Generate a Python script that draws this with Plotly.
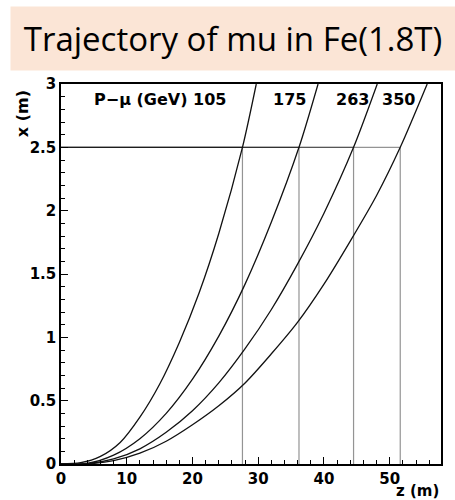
import plotly.graph_objects as go

# Muon momenta (GeV) and the depth z (m) where each track reaches x = 2.5 m
momenta = [105, 175, 263, 350]
stop_z = [27.6, 36.2, 44.5, 51.6]
stop_x = 2.5

# Trajectories x(z) in the 1.8 T iron
traj_z = {
    105: [0, 3, 6, 9, 12, 15, 18, 21, 24, 27.6, 29.7],
    175: [0, 4, 8, 12, 16, 20, 24, 28, 32, 36.2, 39.1],
    263: [0, 4, 8, 12, 16, 20, 24, 28, 32, 36, 40, 44.5, 48.1],
    350: [0, 4, 8, 12, 16, 20, 24, 28, 32, 36, 40, 44, 48, 51.6, 55.7],
}
traj_x = {
    105: [0, 0.01, 0.06, 0.17, 0.37, 0.63, 0.96, 1.35, 1.82, 2.5, 3.0],
    175: [0, 0.005, 0.07, 0.20, 0.40, 0.67, 1.01, 1.42, 1.91, 2.5, 3.0],
    263: [0, 0.002, 0.04, 0.12, 0.25, 0.42, 0.64, 0.91, 1.22, 1.58, 1.98, 2.5, 3.0],
    350: [0, 0.001, 0.026, 0.085, 0.18, 0.31, 0.46, 0.64, 0.87, 1.12, 1.42, 1.76, 2.12, 2.5, 3.0],
}

# Label text and positions
header_text = "P\u2212\u03bc (GeV) 105"
label_z = [15.1, 34.7, 44.4, 51.4]
label_x = 2.875

FONT = "DejaVu Sans"

fig = go.Figure()

# L-shaped guides: along x = 2.5 from z = 0, then down to the axis
for z in stop_z:
    fig.add_trace(go.Scatter(
        x=[0, z, z], y=[stop_x, stop_x, 0], mode="lines",
        line=dict(color="rgba(0,0,0,0.42)", width=1.2),
        hoverinfo="skip", showlegend=False,
    ))

for p in momenta:
    fig.add_trace(go.Scatter(
        x=traj_z[p], y=traj_x[p], mode="lines",
        line=dict(color="#111111", width=1.3, shape="spline", smoothing=0.8),
        name=f"{p} GeV", showlegend=False,
    ))

texts = [header_text] + [str(p) for p in momenta[1:]]
for t, z in zip(texts, label_z):
    fig.add_annotation(
        x=z, y=label_x, xref="x", yref="y", text=t, showarrow=False,
        xanchor="center", yanchor="middle",
        font=dict(family=FONT, size=16, color="black", weight="bold"),
    )

# Axis titles
fig.add_annotation(
    x=-0.103, y=0.99, xref="paper", yref="paper", text="x (m)",
    textangle=-90, showarrow=False, yanchor="top", xanchor="center",
    font=dict(family=FONT, size=16, color="black", weight="bold"),
)
fig.add_annotation(
    x=1.0, y=-0.071, xref="paper", yref="paper", text="z (m)",
    showarrow=False, xanchor="right", yanchor="middle",
    font=dict(family=FONT, size=15, color="black", weight="bold"),
)

# Title banner
fig.add_annotation(
    x=0.4526, y=1.1197, xref="paper", yref="paper",
    xanchor="center", yanchor="middle",
    width=444, height=63, bgcolor="#FBE5D6", borderpad=0,
    text="Trajectory of mu in Fe(1.8T)", showarrow=False,
    font=dict(family="Open Sans", size=33, color="black"),
)

axis_common = dict(
    showgrid=False, zeroline=False, showline=True, linecolor="black",
    linewidth=1.5, mirror=True, ticks="inside", ticklen=7, tickwidth=1,
    tickcolor="black",
    tickfont=dict(family=FONT, size=15, color="black", weight="bold"),
)

fig.update_xaxes(
    range=[0, 57.8], tickmode="array", tickvals=[0, 10, 20, 30, 40, 50],
    minor=dict(ticks="inside", ticklen=4, dtick=2, tick0=0, tickcolor="black"),
    **axis_common,
)
fig.update_yaxes(
    range=[0, 3], tickmode="array", tickvals=[0, 0.5, 1, 1.5, 2, 2.5, 3],
    ticktext=["0", "0.5", "1", "1.5", "2", "2.5", "3"],
    minor=dict(ticks="inside", ticklen=4, dtick=0.1, tick0=0, tickcolor="black"),
    **axis_common,
)

fig.update_layout(
    width=455, height=500,
    margin=dict(l=61, r=14, t=84, b=36),
    paper_bgcolor="white", plot_bgcolor="white",
)

fig.write_html("out.html")
